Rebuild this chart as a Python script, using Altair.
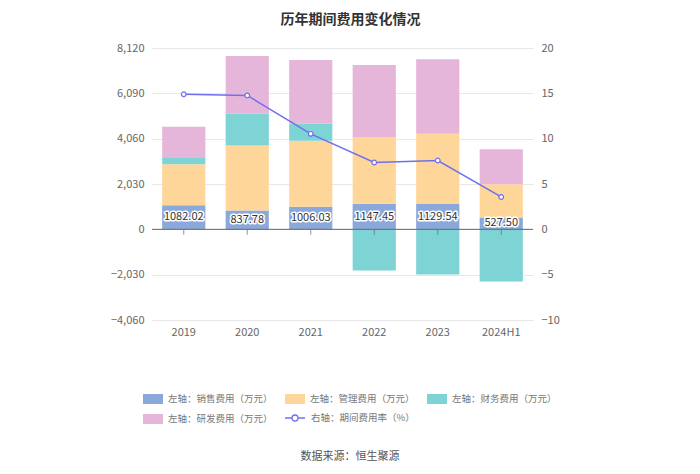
import altair as alt
import pandas as pd

years = ["2019", "2020", "2021", "2022", "2023", "2024H1"]
sales = [1082.02, 837.78, 1006.03, 1147.45, 1129.54, 527.50]
mgmt = [1834, 2917, 2956, 2967, 3146, 1491]
finance = [283, 1418, 762, -1839, -2019, -2333]
rd = [1391, 2588, 2858, 3243, 3337, 1570]
rate = [14.9, 14.77, 10.53, 7.37, 7.59, 3.57]

series_names = ["左轴：销售费用（万元）", "左轴：管理费用（万元）", "左轴：财务费用（万元）", "左轴：研发费用（万元）"]
series_colors = ["#8BA8DA", "#FFD699", "#7ED3D5", "#E6B6DA"]
rate_name = "右轴：期间费用率（%）"
line_color = "#6F70EE"
left_ticks = [-4060, -2030, 0, 2030, 4060, 6090, 8120]
right_ticks = [-10, -5, 0, 5, 10, 15, 20]
source_text = ["数据来源：恒生聚源"]

rows = []
for i, y in enumerate(years):
    for k, (name, vals) in enumerate(zip(series_names, [sales, mgmt, finance, rd])):
        rows.append({"year": y, "series": name, "value": vals[i], "order": k})
bars_df = pd.DataFrame(rows)
base_df = pd.DataFrame({"year": years, "sales": sales, "rate": rate, "rname": [rate_name] * len(years)})
src_df = pd.DataFrame({"t": source_text})

FONT = "Noto Sans CJK SC"
W, H = 381, 272

x_enc = alt.X("year:N", sort=years, title=None,
              scale=alt.Scale(paddingInner=0.32, paddingOuter=0.16),
              axis=alt.Axis(domain=False, ticks=False, labelAngle=0, labelColor="#666",
                            labelFontSize=11, labelPadding=6, labelFont=FONT))

yscale = alt.Scale(domain=[-4060, 8120], nice=False, zero=False)
left_axis = alt.Axis(values=left_ticks, labelExpr="format(datum.value, ',')", domain=False, ticks=False,
                     labelColor="#666", labelFontSize=11, labelPadding=8,
                     gridColor="#E8E8E8", labelFont=FONT, title=None)

bars = alt.Chart(bars_df).mark_bar().encode(
    x=x_enc,
    y=alt.Y("value:Q", stack="zero", scale=yscale, title=None, axis=left_axis),
    color=alt.Color("series:N",
                    scale=alt.Scale(domain=series_names, range=series_colors),
                    legend=alt.Legend(title=None, orient="none", legendX=-9, legendY=341,
                                      values=series_names, direction="horizontal",
                                      columns=3, columnPadding=12, rowPadding=5, gridAlign="all",
                                      symbolType="M-1,-0.5H1V0.5H-1Z", symbolSize=400,
                                      symbolStrokeWidth=0, labelFontSize=9.5, labelColor="#777",
                                      labelFont=FONT, labelOffset=5, labelLimit=200)),
    order=alt.Order("order:Q"),
)

zero_ticks = alt.Chart(base_df).mark_tick(orient="vertical", size=5, thickness=1, color="#666", yOffset=3).encode(
    x=alt.X("year:N", sort=years), y=alt.YDatum(0, scale=yscale, axis=left_axis)
)

zero_rule = alt.Chart(src_df).mark_rule(color="#666", strokeWidth=1).encode(
    y=alt.YDatum(0, scale=yscale, axis=left_axis)
)

label_halo = alt.Chart(base_df).mark_text(fontSize=11, font=FONT, color="white", stroke="white",
                                          strokeWidth=3, strokeJoin="round").encode(
    x=alt.X("year:N", sort=years),
    y=alt.Y("mid:Q", scale=yscale, axis=left_axis),
    text=alt.Text("sales:Q", format=".2f"),
).transform_calculate(mid="datum.sales / 2")

label_text = alt.Chart(base_df).mark_text(fontSize=11, font=FONT, color="#333").encode(
    x=alt.X("year:N", sort=years),
    y=alt.Y("mid:Q", scale=yscale, axis=left_axis),
    text=alt.Text("sales:Q", format=".2f"),
).transform_calculate(mid="datum.sales / 2")

left = alt.layer(bars, zero_ticks, zero_rule, label_halo, label_text)

line = alt.Chart(base_df).mark_line(
    strokeWidth=1.5,
    point=alt.OverlayMarkDef(filled=True, fill="white", stroke=line_color, strokeWidth=1.2, size=22)
).encode(
    x=alt.X("year:N", sort=years),
    y=alt.Y("rate:Q", scale=alt.Scale(domain=[-10, 20], nice=False, zero=False), title=None,
            axis=alt.Axis(orient="right", values=right_ticks, domain=False, ticks=False, grid=False,
                          labelColor="#666", labelFontSize=11, labelPadding=8, labelFont=FONT)),
    stroke=alt.Stroke("rname:N", scale=alt.Scale(domain=[rate_name], range=[line_color]),
                      legend=alt.Legend(title=None, orient="none", legendX=132, legendY=359,
                                        symbolType="M-1,0H-0.3M0.3,0H1M0.3,0A0.3,0.3 0 1 1 -0.3,0A0.3,0.3 0 1 1 0.3,0",
                                        symbolSize=400, symbolStrokeWidth=1.3, symbolFillColor="white",
                                        labelFontSize=9.5, labelColor="#777", labelFont=FONT,
                                        labelOffset=5, labelLimit=200)),
)

source = alt.Chart(src_df).mark_text(fontSize=11, font=FONT, color="#555").encode(
    x=alt.value(198), y=alt.value(409), text="t:N"
)

chart = alt.layer(left, line, source).resolve_scale(y="independent").properties(
    width=W, height=H,
    autosize=alt.AutoSizeParams(type="none"),
    padding={"left": 144, "top": 40, "right": 159, "bottom": 146},
    title=alt.Title("历年期间费用变化情况", fontSize=14, fontWeight="bold", color="#333",
                    font=FONT, anchor="middle", dx=8, offset=15),
).configure_view(stroke=None).configure_legend(symbolStrokeColor=None)

chart.save("out.html", embed_options={"renderer": "svg", "actions": False})
